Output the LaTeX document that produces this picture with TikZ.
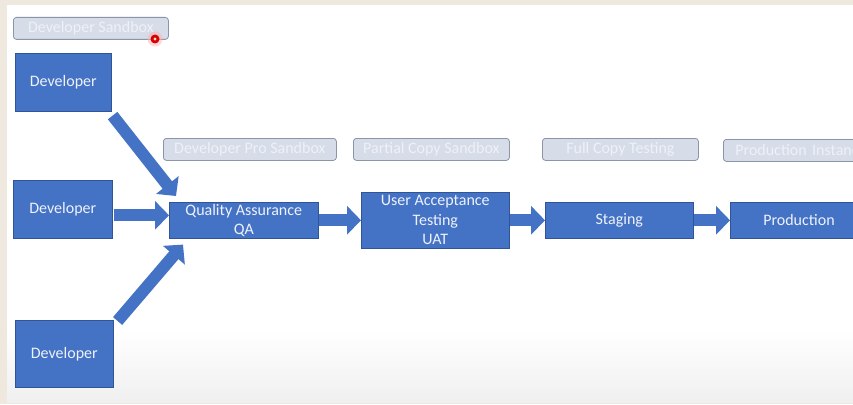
\documentclass[tikz,border=0pt]{standalone}
\usepackage{fontspec}
\setmainfont{Carlito}
\usetikzlibrary{arrows.meta,calc}
\definecolor{boxblue}{HTML}{4472C4}
\definecolor{boxedge}{HTML}{2F5597}
\definecolor{lblfill}{HTML}{D6DCE8}
\definecolor{lbledge}{HTML}{8A95A8}
\definecolor{lbltext}{HTML}{EEF1F7}
\definecolor{outer}{HTML}{EEE8DF}
\definecolor{boxtext}{HTML}{EEF2FA}
\tikzset{
  stepbox/.style={draw=boxedge, line width=0.6pt, fill=boxblue, text=boxtext,
    font=\fontsize{16}{19.5}\selectfont, align=center, inner sep=0pt, anchor=north west},
  tagbox/.style={draw=lbledge, line width=0.8pt, fill=lblfill, text=lbltext,
    rounded corners=3pt, font=\fontsize{16}{19}\selectfont, inner sep=0pt, anchor=north west},
  bigarrow/.style={draw=boxblue, line width=12pt, -{Triangle[width=28pt,length=14pt]}}
}
\begin{document}
\begin{tikzpicture}[x=1pt,y=-1pt]
\useasboundingbox (0,0) rectangle (853,404);
\clip (0,0) rectangle (853,404);
\fill[outer] (0,0) rectangle (853,404);
\fill[white] (7,5) rectangle (860,402);
\shade[top color=white, bottom color=black!6] (7,330) rectangle (860,402);
% tags
\node[tagbox, minimum width=155pt, minimum height=22pt] (t0) at (13,17) {Developer Sandbox};
\node[tagbox, minimum width=173pt, minimum height=22pt] (t1) at (163,138) {Developer Pro Sandbox};
\node[tagbox, minimum width=156pt, minimum height=22pt] (t2) at (353,138) {Partial Copy Sandbox};
\node[tagbox, minimum width=156pt, minimum height=22pt] (t3) at (542,138) {Full Copy Testing};
\node[tagbox, minimum width=150pt, minimum height=22pt, text width=146pt, align=left] (t4) at (723,139) {\hspace*{10pt}Production Instance};
% developers
\node[stepbox, minimum width=96pt, minimum height=58pt] (d1) at (15,53) {Developer};
\node[stepbox, minimum width=99pt, minimum height=58pt] (d2) at (13,180) {Developer};
\node[stepbox, minimum width=98pt, minimum height=67pt] (d3) at (15,320) {Developer};
% pipeline
\node[stepbox, minimum width=149pt, minimum height=36pt] (qa) at (169,202) {Quality Assurance\\QA};
\node[stepbox, minimum width=148pt, minimum height=56pt] (uat) at (361,192) {User Acceptance\\Testing\\UAT};
\node[stepbox, minimum width=148pt, minimum height=36pt] (stg) at (545,202) {Staging};
\node[stepbox, minimum width=150pt, minimum height=36pt, text width=146pt, align=left] (prd) at (730,202) {\hspace*{31pt}Production};
% arrows
\draw[bigarrow] ($(d1.south east)+(1,4)$) -- ($(qa.north west)+(7,-6)$);
\draw[bigarrow] ($(d2.east)+(1,6)$) -- ($(qa.west)+(0,-5)$);
\draw[bigarrow] ($(d3.north east)+(4,1)$) -- ($(qa.south west)+(14,6)$);
\draw[bigarrow] (qa.east) -- (uat.west);
\draw[bigarrow] (uat.east) -- (stg.west);
\draw[bigarrow] (stg.east) -- (prd.west);
% pointer dot
\fill[red!30, opacity=0.5] (155,39) circle (7.5pt);
\fill[red!85!black] (155,39) circle (4.5pt);
\fill[white!85!red] (155,39) circle (1.6pt);
\end{tikzpicture}
\end{document}
